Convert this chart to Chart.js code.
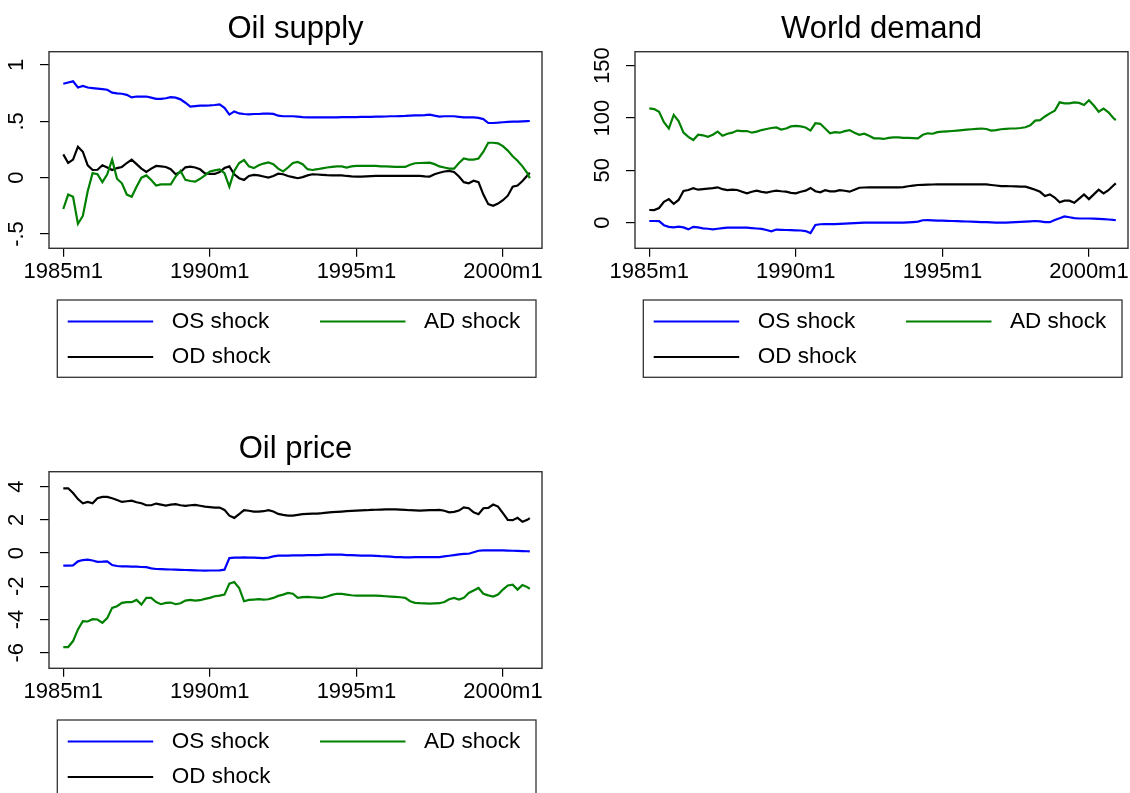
<!DOCTYPE html>
<html>
<head>
<meta charset="utf-8">
<script src="https://cdn.jsdelivr.net/npm/chart.js@4.4.0/dist/chart.umd.min.js"></script>
<style>
html, body { margin: 0; padding: 0; background: #fff; }
body { width: 1130px; height: 793px; overflow: hidden; position: relative; }
canvas { position: absolute; }
</style>
</head>
<body>
<canvas id="oilSupply" width="591" height="400" style="left:0px;top:0px"></canvas>
<canvas id="worldDemand" width="591" height="400" style="left:586px;top:0px"></canvas>
<canvas id="oilPrice" width="591" height="400" style="left:0px;top:420px"></canvas>
<script>
// month index, 0 = 1985m1
var months = [0,2,4,6,8,10,12,14,16,18,20,22,24,26,28,30,32,34,36,38,
  40,42,44,46,48,50,52,54,56,58,60,62,64,66,68,70,72,74,76,78,
  80,82,84,86,88,90,92,94,96,98,100,102,104,106,108,110,112,114,116,118,
  120,122,124,126,128,130,132,134,136,138,140,142,144,146,148,150,152,154,156,158,
  160,162,164,166,168,170,172,174,176,178,180,182,184,186,188,190,191];

var xTicks = [0, 60, 120, 180];
var xTickLabels = ['1985m1', '1990m1', '1995m1', '2000m1'];

var seriesNames = ['OS shock', 'AD shock', 'OD shock'];
var seriesColors = ['#0000ff', '#008000', '#000000'];

// Oil supply
var supplyOS = [.833,.845,.855,.80,.815,.80,.795,.79,.785,.78,
  .755,.748,.745,.735,.712,.72,.72,.72,.71,.70,
  .70,.705,.715,.71,.695,.665,.63,.635,.64,.64,
  .642,.645,.65,.62,.56,.588,.57,.565,.562,.565,
  .565,.568,.568,.566,.55,.545,.545,.545,.542,.538,
  .535,.535,.535,.535,.535,.535,.535,.537,.537,.538,
  .538,.54,.54,.54,.542,.542,.543,.545,.545,.547,
  .548,.55,.552,.553,.555,.56,.55,.542,.545,.545,
  .545,.54,.535,.535,.535,.53,.52,.485,.485,.488,
  .492,.495,.497,.498,.5,.502,.503];
var supplyAD = [-.278,-.15,-.17,-.41,-.34,-.12,.04,.03,-.04,.03,
  .16,-.01,-.05,-.15,-.17,-.08,0,.02,-.02,-.07,
  -.06,-.06,-.06,.01,.06,-.02,-.03,-.035,-.01,.02,
  .055,.065,.074,.04,-.08,.06,.13,.157,.1,.085,
  .11,.125,.135,.12,.08,.055,.09,.13,.14,.12,
  .075,.068,.075,.083,.09,.095,.1,.1,.09,.1,
  .104,.105,.105,.105,.104,.1,.1,.098,.095,.095,
  .095,.115,.128,.13,.132,.133,.12,.1,.09,.08,
  .08,.13,.17,.16,.16,.17,.23,.31,.31,.305,
  .28,.24,.19,.15,.1,.04,-.006];
var supplyOD = [.207,.13,.16,.275,.23,.11,.068,.07,.11,.09,
  .068,.085,.095,.13,.16,.12,.08,.05,.08,.104,
  .1,.095,.075,.03,.05,.092,.098,.09,.074,.038,
  .033,.033,.05,.085,.1,.03,-.005,-.02,.015,.024,
  .02,.01,0,.015,.035,.03,.015,.005,-.005,.005,
  .02,.03,.028,.025,.022,.02,.02,.02,.015,.012,
  .01,.01,.012,.014,.015,.015,.015,.015,.015,.015,
  .015,.015,.015,.015,.012,.01,.03,.044,.055,.06,
  .05,.01,-.04,-.05,-.027,-.04,-.15,-.235,-.25,-.23,
  -.2,-.16,-.08,-.07,-.03,.02,.044];

// World demand
var demandOS = [1.6,1.6,1.4,-2.4,-4,-4.5,-3.8,-4.5,-6.4,-4,
  -4.5,-5.4,-5.8,-6.4,-5.8,-5.2,-4.8,-4.8,-4.8,-4.8,
  -4.8,-5.2,-5.6,-6,-7,-8.3,-6.6,-6.8,-7,-7.1,
  -7.3,-7.5,-8,-10,-2.2,-1.5,-1.3,-1.3,-1.3,-1.1,
  -.9,-.6,-.4,-.2,0,0,0,0,0,0,
  0,0,0,.3,.6,1,2.3,2.4,2.2,2,
  1.9,1.7,1.6,1.5,1.3,1.1,1,.8,.6,.5,
  .3,.1,0,.1,.3,.5,.8,1,1.3,1.6,
  1.2,.5,.5,2.5,4.2,6,5.2,4.3,4,4,
  4,3.8,3.6,3.4,3,2.6,2.5];
var demandAD = [109.2,108.5,106,96,90,103,97,86,82,79,
  84,83.5,82,84,87,83,85,86,88,87.5,
  87.6,86,87,88.5,89.5,90.5,91,89,90,92,
  92.5,92,91,88,95,94.5,90,85.5,86.5,86,
  87.5,88.5,86,84,85,83,80.6,80.5,80,81,
  81.5,81.5,81,81,80.8,80.6,84,85.4,85,86.5,
  87,87.3,87.6,88,88.5,89,89.3,89.6,90,89.5,
  88,88.5,89.3,89.6,90,90,90.5,91.2,93,97.5,
  98,101.5,104.5,107,115,114,114,115,114.5,112.5,
  117,112,106,109,105.5,100,98];
var demandOD = [12.1,12,14,20,22.5,18,21.7,30.3,31.2,33,
  31.5,32,32.5,33,33.8,32,31.2,31.5,31.2,29.5,
  28,29.5,30.6,29.5,28.7,29.8,30.6,30,29.6,28.5,
  28,29.5,30.6,33.2,30,29,31,30,30,31,
  30.5,29.6,31.5,33.4,33.6,33.8,33.8,33.8,33.8,33.8,
  33.8,33.8,34,34.8,35.4,36,36.2,36.4,36.5,36.6,
  36.6,36.6,36.6,36.6,36.6,36.6,36.6,36.6,36.6,36.6,
  36,35.5,35,35,34.8,34.6,34.5,34.4,33,31.5,
  29.5,25.5,27,24,19.5,21,21,19,23,27,
  22.5,27,31.5,28,31,35.5,37.6];

// Oil price
var priceOS = [-.76,-.76,-.74,-.5,-.42,-.4,-.45,-.53,-.52,-.5,
  -.72,-.78,-.8,-.8,-.82,-.82,-.84,-.85,-.92,-.96,
  -.97,-.98,-.99,-1,-1.01,-1.02,-1.03,-1.04,-1.05,-1.06,
  -1.05,-1.05,-1.04,-1,-.3,-.28,-.27,-.26,-.27,-.28,
  -.29,-.3,-.27,-.2,-.16,-.15,-.15,-.14,-.14,-.14,
  -.13,-.12,-.12,-.11,-.1,-.1,-.1,-.1,-.12,-.13,
  -.14,-.15,-.15,-.16,-.17,-.19,-.2,-.22,-.24,-.25,
  -.26,-.26,-.25,-.25,-.24,-.24,-.24,-.24,-.2,-.16,
  -.12,-.08,-.05,-.04,.05,.14,.16,.16,.16,.16,
  .16,.15,.14,.13,.12,.11,.1];
var priceAD = [-5.66,-5.66,-5.3,-4.6,-4.1,-4.12,-3.98,-4,-4.2,-3.92,
  -3.3,-3.2,-3,-2.95,-2.96,-2.82,-3.1,-2.7,-2.7,-2.95,
  -3.08,-3,-2.98,-3.08,-3.02,-2.86,-2.82,-2.86,-2.84,-2.76,
  -2.7,-2.6,-2.56,-2.5,-1.84,-1.74,-2.1,-2.9,-2.82,-2.8,
  -2.78,-2.8,-2.78,-2.7,-2.58,-2.5,-2.4,-2.45,-2.7,-2.65,
  -2.64,-2.66,-2.68,-2.7,-2.62,-2.52,-2.45,-2.46,-2.5,-2.54,
  -2.56,-2.56,-2.56,-2.56,-2.56,-2.58,-2.6,-2.62,-2.64,-2.66,
  -2.7,-2.9,-3,-3.02,-3.03,-3.04,-3.03,-3.02,-2.95,-2.78,
  -2.7,-2.8,-2.7,-2.4,-2.25,-2.1,-2.45,-2.55,-2.62,-2.5,
  -2.2,-1.95,-1.9,-2.2,-1.92,-2.05,-2.16];
var priceOD = [3.9,3.9,3.62,3.25,3,3.08,3,3.3,3.38,3.38,
  3.3,3.2,3.08,3.12,3.16,3.06,3,2.88,2.88,2.98,
  2.92,2.86,2.92,2.95,2.88,2.84,2.88,2.9,2.85,2.8,
  2.77,2.74,2.74,2.6,2.25,2.12,2.35,2.58,2.55,2.5,
  2.5,2.52,2.58,2.5,2.36,2.3,2.26,2.25,2.3,2.34,
  2.36,2.37,2.38,2.4,2.43,2.46,2.48,2.5,2.52,2.54,
  2.56,2.57,2.58,2.6,2.61,2.62,2.63,2.64,2.63,2.62,
  2.6,2.58,2.57,2.56,2.57,2.58,2.59,2.6,2.55,2.45,
  2.48,2.56,2.75,2.7,2.45,2.34,2.7,2.72,2.92,2.8,
  2.4,2,1.98,2.12,1.88,2,2.1];

var supplyTicks = [-0.5, 0, 0.5, 1];
var supplyTickLabels = ['-.5', '0', '.5', '1'];
var demandTicks = [0, 50, 100, 150];
var demandTickLabels = ['0', '50', '100', '150'];
var priceTicks = [-6, -4, -2, 0, 2, 4];
var priceTickLabels = ['-6', '-4', '-2', '0', '2', '4'];

var FONT = "'Liberation Sans', Arial, Helvetica, sans-serif";

// box round the plot region
var frame = {
  id: 'frame',
  afterDraw: function(chart) {
    var a = chart.chartArea, ctx = chart.ctx;
    ctx.save();
    ctx.strokeStyle = '#333';
    ctx.lineWidth = 1.4;
    ctx.strokeRect(a.left, a.top, a.right - a.left, a.bottom - a.top);
    ctx.restore();
  }
};

// stata style legend: two columns inside a box
var boxLegend = {
  id: 'boxLegend',
  afterDraw: function(chart) {
    var ctx = chart.ctx;
    var cols = [67.7, 320], rows = [321.5, 357];
    ctx.save();
    ctx.strokeStyle = '#333';
    ctx.lineWidth = 1.3;
    ctx.strokeRect(57.3, 300, 478.7, 77.3);
    ctx.font = '22.5px ' + FONT;
    ctx.textBaseline = 'middle';
    ctx.textAlign = 'left';
    chart.data.datasets.forEach(function(ds, i) {
      var x = cols[i % 2], y = rows[Math.floor(i / 2)];
      ctx.strokeStyle = ds.borderColor;
      ctx.lineWidth = 2;
      ctx.beginPath();
      ctx.moveTo(x, y);
      ctx.lineTo(x + 85.5, y);
      ctx.stroke();
      ctx.fillStyle = '#000';
      ctx.fillText(ds.label, x + 104, y);
    });
    ctx.restore();
  }
};

function makeChart(id, title, series, yMin, yMax, yTicks, yTickLabels, yPad) {
  var datasets = series.map(function(vals, i) {
    return {
      label: seriesNames[i],
      data: months.map(function(m, j) { return {x: m, y: vals[j]}; }),
      borderColor: seriesColors[i],
      borderWidth: 2.2,
      pointRadius: 0,
      tension: 0,
      fill: false
    };
  });
  return new Chart(document.getElementById(id).getContext('2d'), {
    type: 'line',
    data: { datasets: datasets },
    options: {
      responsive: false,
      animation: false,
      layout: { padding: { top: 0, left: 0, right: 0, bottom: 111.7 } },
      plugins: {
        legend: { display: false },
        tooltip: { enabled: false },
        title: {
          display: true,
          text: title,
          color: '#000',
          font: { family: FONT, size: 31, weight: 'normal', lineHeight: 1.2 },
          padding: { top: 10.5, bottom: 4 }
        }
      },
      scales: {
        x: {
          type: 'linear',
          min: -5.85,
          max: 196,
          afterBuildTicks: function(s) { s.ticks = xTicks.map(function(v) { return {value: v}; }); },
          afterFit: function(s) { s.height = 40; },
          ticks: {
            autoSkip: false,
            maxRotation: 0,
            color: '#000',
            padding: 1.5,
            font: { family: FONT, size: 22 },
            callback: function(v) { return xTickLabels[xTicks.indexOf(v)]; }
          },
          grid: { drawOnChartArea: false, tickLength: 8.5, color: '#000', lineWidth: 1.2 },
          border: { display: false }
        },
        y: {
          min: yMin,
          max: yMax,
          afterBuildTicks: function(s) { s.ticks = yTicks.map(function(v) { return {value: v}; }); },
          afterFit: function(s) { s.width = 49; },
          ticks: {
            minRotation: 90,
            maxRotation: 90,
            crossAlign: 'center',
            color: '#000',
            padding: yPad,
            font: { family: FONT, size: 22 },
            callback: function(v) { return yTickLabels[yTicks.indexOf(v)]; }
          },
          grid: { drawOnChartArea: false, tickLength: 9, color: '#000', lineWidth: 1.2 },
          border: { display: false }
        },
        // empty right-hand axis so the title centres over the plot region
        r: {
          type: 'linear',
          position: 'right',
          afterFit: function(s) { s.width = 49; },
          ticks: { display: false },
          grid: { display: false },
          border: { display: false }
        }
      }
    },
    plugins: [frame, boxLegend]
  });
}

makeChart('oilSupply', 'Oil supply', [supplyOS, supplyAD, supplyOD], -0.627, 1.118, supplyTicks, supplyTickLabels, 9.8);
makeChart('worldDemand', 'World demand', [demandOS, demandAD, demandOD], -24.5, 163.4, demandTicks, demandTickLabels, 4.25);
makeChart('oilPrice', 'Oil price', [priceOS, priceAD, priceOD], -6.94, 4.9, priceTicks, priceTickLabels, 12.8);
</script>
</body>
</html>
